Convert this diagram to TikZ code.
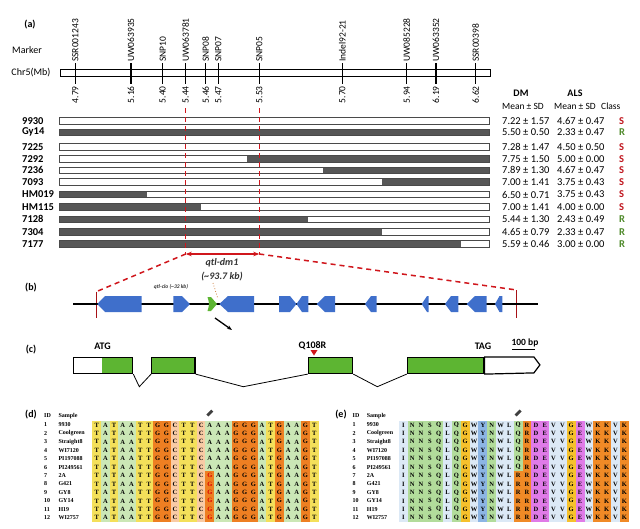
\documentclass[tikz,border=0pt]{standalone}
\usepackage{fontspec}
\setmainfont{Carlito}
\newfontfamily\alnfont{Liberation Serif}
\usetikzlibrary{arrows.meta}
\definecolor{dkred}{HTML}{D0161C}
\definecolor{barfill}{HTML}{575757}
\definecolor{baredge}{HTML}{4A4A4A}
\definecolor{clsS}{HTML}{C0141C}
\definecolor{clsR}{HTML}{4F8A2B}
\definecolor{geneblue}{HTML}{3F6FCB}
\definecolor{genegreen}{HTML}{5DB532}
\definecolor{dotorange}{HTML}{D08040}
\definecolor{nA}{HTML}{CBE7B6}
\definecolor{nT}{HTML}{F4E05A}
\definecolor{nG}{HTML}{EE7F22}
\definecolor{nC}{HTML}{F9CBA5}
\definecolor{aLB}{HTML}{DCE9F6}
\definecolor{aGR}{HTML}{B2DC9B}
\definecolor{aGO}{HTML}{F6C12C}
\definecolor{aBL}{HTML}{8CB5E4}
\definecolor{aOR}{HTML}{F08A26}
\definecolor{aMG}{HTML}{E07BE8}
\newcommand{\genL}[3]{\fill[geneblue] (#1,304) -- (#2,296) -- (#3,296) -- (#3,312) -- (#2,312) -- cycle;}
\newcommand{\genR}[3]{\fill[geneblue] (#1,296) -- (#2,296) -- (#3,304) -- (#2,312) -- (#1,312) -- cycle;}
\begin{document}
\begin{tikzpicture}[x=1pt,y=-1pt,
  lab/.style={font=\fontsize{10}{12}\selectfont\bfseries, inner sep=0pt},
  plain/.style={font=\fontsize{10}{12}\selectfont, inner sep=0pt},
  mk/.style={font=\fontsize{9.5}{10}\selectfont, inner sep=0pt, rotate=90},
  rowlab/.style={font=\fontsize{10.5}{12}\selectfont\bfseries, anchor=west, inner sep=0pt},
  val/.style={font=\fontsize{10.5}{12}\selectfont, anchor=west, inner sep=0pt},
  hdr/.style={font=\fontsize{9.5}{11}\selectfont, inner sep=0pt},
  reddash/.style={draw=dkred, line width=1.5pt, dash pattern=on 5pt off 4pt},
  exon/.style={draw=black, line width=1.2pt, fill=genegreen, minimum height=16pt, inner sep=0pt},
  intron/.style={line width=0.8pt},
  aln/.style={font=\alnfont\fontsize{6.5}{7}\selectfont\bfseries, inner sep=0pt},
  alnh/.style={font=\alnfont\fontsize{6}{7}\selectfont\bfseries, inner sep=0pt, anchor=west},
  ]
\useasboundingbox (0,0) rectangle (640,528);
\fill[white] (0,0) rectangle (640,528);

% ---------------- panel (a)
\node[lab] (pa) at (30,25) {(a)};
\node[plain] (marker) at (27,50) {Marker};
\node[plain] (chr) at (31,73) {Chr5(Mb)};
\draw[line width=0.8pt, fill=white] (60,69.5) rectangle (490,76);
\foreach \x/\m/\p [count=\k] in {75.3/SSR001243/4.79, 131/UW063935/5.16, 162.7/SNP10/5.40, 185.7/UW063781/5.44, 205.7/SNP08/5.46, 218.3/SNP07/5.47, 259.3/SNP05/5.53, 342.3/Indel92-21/5.70, 406.7/UW085228/5.94, 436/UW063352/6.19, 475.7/SSR00398/6.62} {
  \draw[line width=1.3pt] (\x,63) -- (\x,84);
  \node[mk, anchor=west] (m\k) at (\x,62) {\m};
  \node[mk, anchor=east] (p\k) at (\x,86) {\p};
}

\node[hdr, font=\fontsize{10}{12}\selectfont\bfseries] (hDM) at (521,93) {DM};
\node[hdr, font=\fontsize{10}{12}\selectfont\bfseries] (hALS) at (575,93) {ALS};
\node[hdr, anchor=west] (hM1) at (502,106) {Mean ± SD};
\node[hdr, anchor=west] (hM2) at (554,106) {Mean ± SD};
\node[hdr, anchor=west] (hCl) at (601,106) {Class};

\foreach \n/\y/\a/\b/\dm/\als/\cl in {
 9930/120.7/59/59/7.22 ± 1.57/4.67 ± 0.47/S,
 Gy14/132.3/59/489/5.50 ± 0.50/2.33 ± 0.47/R,
 7225/146.7/59/59/7.28 ± 1.47/4.50 ± 0.50/S,
 7292/159/247/489/7.75 ± 1.50/5.00 ± 0.00/S,
 7236/170.3/322.7/489/7.89 ± 1.30/4.67 ± 0.47/S,
 7093/182/382/489/7.00 ± 1.41/3.75 ± 0.43/S,
 HM019/194.5/59/146.7/6.50 ± 0.71/3.75 ± 0.43/S,
 HM115/206.7/59/201/7.00 ± 1.41/4.00 ± 0.00/S,
 7128/219.3/59/308/5.44 ± 1.30/2.43 ± 0.49/R,
 7304/231.7/59/382/4.65 ± 0.79/2.33 ± 0.47/R,
 7177/244/59/461/5.59 ± 0.46/3.00 ± 0.00/R} {
  \fill[white] (59,\y-3.3) rectangle (489,\y+3.3);
  \fill[barfill] (\a,\y-3.3) rectangle (\b,\y+3.3);
  \draw[baredge, line width=0.9pt] (59,\y-3.3) rectangle (489,\y+3.3);
  \node[rowlab] (r\n) at (22,\y) {\n};
  \node[val] (dm\n) at (502,\y) {\dm};
  \node[val] (als\n) at (557,\y) {\als};
  \node[val, text=cls\cl, font=\fontsize{10.5}{12}\selectfont\bfseries] (cl\n) at (619,\y) {\cl};
}

\coordinate (qL) at (185.7,254);
\coordinate (qR) at (259.3,254);
\coordinate (qLtop) at (185.7,108);
\coordinate (qRtop) at (259.3,108);
\draw[reddash] (qLtop) -- (qL);
\draw[reddash] (qRtop) -- (qR);
\draw[draw=dkred, line width=1.4pt, {Stealth[length=6pt]}-{Stealth[length=6pt]}] (qL) -- (qR);
\node[font=\fontsize{10}{12}\selectfont\bfseries\itshape, text=black!80, inner sep=0pt] (qtl) at (222,263) {qtl-dm1};
\node[font=\fontsize{10}{12}\selectfont\bfseries\itshape, text=black!80, inner sep=0pt] (qkb) at (222,277) {(\textasciitilde93.7 kb)};
\coordinate (bL) at (96.7,291.5);
\coordinate (bR) at (516.7,290);
\draw[reddash] (qL) -- (bL);
\draw[reddash] (qR) -- (bR);

% ---------------- panel (b)
\node[lab] (pb) at (31,288) {(b)};
\coordinate (bLb) at (96.7,318);
\coordinate (bRb) at (516.7,318);
\draw[dkred!80!black, line width=0.8pt] (bL) -- (bLb);
\draw[dkred!80!black, line width=0.8pt] (bR) -- (bRb);
\draw[line width=2.5pt] (73,304) -- (538,304);
\node[font=\fontsize{5.5}{7}\selectfont\bfseries\itshape, text=black!80, inner sep=0pt] (clo) at (171,287) {qtl-clo (\textasciitilde32 kb)};
\genL{97.3}{105}{141.7}
\genR{173.3}{182}{190}
\fill[genegreen] (207.5,297) -- (211,297) -- (217,304) -- (211,311) -- (207.5,311) .. controls (209.5,304) .. (207.5,297) -- cycle;
\genL{219.3}{228}{254}
\genR{279}{290}{296.5}
\genL{296.5}{302}{308.3}
\genL{316.7}{325}{335}
\genL{365}{371}{376.7}
\genL{421.7}{427}{428.6}
\genL{445}{451}{458.3}
\genL{466.7}{475}{486.7}
\genL{495}{499.5}{502.3}
\coordinate (dotS) at (213,283);
\coordinate (gg) at (218,299);
\draw[dotorange, line width=0.8pt, dotted] (dotS) -- (gg);
\coordinate (arS) at (215,318);
\coordinate (arE) at (232,330);
\draw[line width=1.3pt, -{Stealth[length=5pt]}] (arS) -- (arE);

% ---------------- panel (c)
\node[lab] (pc) at (31,350) {(c)};
\node[lab] (atg) at (102.5,346) {ATG};
\node[lab] (q108) at (312.5,346) {Q108R};
\node[lab] (tag) at (483,346) {TAG};
\node[font=\fontsize{9.5}{11}\selectfont\bfseries, inner sep=0pt] (sc) at (525,343) {100 bp};
\coordinate (sb1) at (512,349.5);
\coordinate (sb2) at (535,349.5);
\draw[line width=0.8pt] (sb1) -- (sb2);
\fill[dkred] (310.5,350) -- (317.5,350) -- (314,355.5) -- cycle;
\node[exon, minimum width=59.4pt, fill=white,
  path picture={\fill[genegreen] ([xshift=28.4pt]path picture bounding box.south west) rectangle (path picture bounding box.north east);}] (e1) at (103,365.5) {};
\node[exon, minimum width=43.3pt] (e2) at (173.35,365.5) {};
\node[exon, minimum width=44.4pt] (e3) at (330.5,365.5) {};
\node[exon, minimum width=76.7pt] (e4) at (445.65,365.5) {};
\draw[line width=1.2pt, fill=white] (e4.north east) -- ++(49.3,0) -- ++(6,8) -- ++(-6,8) -- (e4.south east) -- cycle;
\draw[intron] (e1.south east) -- (139.3,386.7) -- (e2.south west);
\draw[intron] (e2.south east) -- (243.3,386.7) -- (e3.south west);
\draw[intron] (e3.south east) -- (377.3,386.7) -- (e4.south west);

% ---------------- panel (d)
\node[lab] (pd) at (31,415) {(d)};
\node[alnh] (dID) at (44,415.7) {ID};
\node[alnh] (dSa) at (58.3,415.7) {Sample};
\foreach \s [count=\i] in {9930,Coolgreen,Straight8,WI7120,PI197088,PI249561,2A,G421,GY8,GY14,H19,WI2757} {
  \node[alnh] (did\i) at (44,{425+(\i-1)*8.43}) {\i};
  \node[alnh] (dsn\i) at (58.3,{425+(\i-1)*8.43}) {\s};
  \node[alnh] (eid\i) at (352.5,{425+(\i-1)*8.43}) {\i};
  \node[alnh] (esn\i) at (366.7,{425+(\i-1)*8.43}) {\s};
}
\foreach \c/\col [count=\j] in {T/nT,A/nA,T/nT,A/nA,A/nA,T/nT,T/nT,G/nG,G/nG,C/nC,T/nT,T/nT,C/nC,A/nA,A/nA,A/nA,G/nG,G/nG,G/nG,A/nA,T/nT,G/nG,A/nA,A/nA,G/nG,T/nT} {
  \fill[\col] ({96.7+(\j-1)*8.7-4.35},420.5) rectangle ++(8.7,101.5);
}
\fill[nG] ({96.7+13*8.7-4.35},471.3) rectangle ++(8.7,50.7);
\foreach \c [count=\j] in {T,A,T,A,A,T,T,G,G,C,T,T,C,A,A,A,G,G,G,A,T,G,A,A,G,T} {
  \foreach \i in {1,...,12} {
    \pgfmathtruncatemacro{\mut}{and(\j==14,\i>6)}
    \ifnum\mut=0
      \node[aln] (d\i-\j) at ({96.7+(\j-1)*8.7},{425+(\i-1)*8.43}) {\c};
    \fi
  }
}
\foreach \i in {7,...,12} {
  \node[aln, text=red!85!black] (dm\i) at ({96.7+13*8.7},{425+(\i-1)*8.43}) {G};
}
\fill[black!75, rotate around={-45:(209.8,413)}] (208.4,409.5) rectangle (211.2,416.5);

% ---------------- panel (e)
\node[lab] (pe) at (341,415) {(e)};
\node[alnh] (eID) at (352.5,415.7) {ID};
\node[alnh] (eSa) at (366.7,415.7) {Sample};
\foreach \c/\col [count=\j] in {I/aLB,N/aGR,N/aGR,S/aGR,Q/aGR,L/aLB,Q/aGR,G/aGO,W/aLB,Y/aBL,N/aGR,W/aLB,L/aLB,Q/aGR,R/aOR,D/aMG,E/aMG,V/aLB,V/aLB,G/aGO,E/aMG,W/aLB,K/aOR,K/aOR,V/aLB,K/aOR} {
  \fill[\col] ({403.3+(\j-1)*8.84-4.42},420.5) rectangle ++(8.84,101.5);
}
\fill[aOR] ({403.3+13*8.84-4.42},471.3) rectangle ++(8.84,50.7);
\foreach \c [count=\j] in {I,N,N,S,Q,L,Q,G,W,Y,N,W,L,Q,R,D,E,V,V,G,E,W,K,K,V,K} {
  \foreach \i in {1,...,12} {
    \pgfmathtruncatemacro{\mut}{and(\j==14,\i>6)}
    \ifnum\mut=0
      \node[aln] (e\i-\j) at ({403.3+(\j-1)*8.84},{425+(\i-1)*8.43}) {\c};
    \fi
  }
}
\foreach \i in {7,...,12} {
  \node[aln] (em\i) at ({403.3+13*8.84},{425+(\i-1)*8.43}) {R};
}
\fill[black!75, rotate around={-45:(518.2,413)}] (516.8,409.5) rectangle (519.6,416.5);
\end{tikzpicture}
\end{document}
